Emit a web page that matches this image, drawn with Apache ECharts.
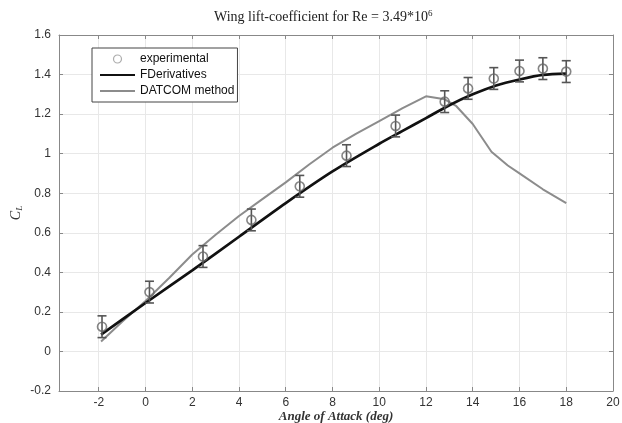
<!DOCTYPE html>
<html>
<head>
<meta charset="utf-8">
<script src="https://cdn.jsdelivr.net/npm/echarts@6/dist/echarts.min.js"></script>
<style>html,body{margin:0;padding:0;background:#fff;}#c{width:622px;height:423px;}</style>
</head>
<body>
<div id="c"></div>
<script>
// ---- data ----
var expX = [-1.86, 0.17, 2.46, 4.53, 6.6, 8.6, 10.7, 12.8, 13.8, 14.9, 16.0, 17.0, 18.0];
var expY = [0.125, 0.30, 0.48, 0.665, 0.835, 0.99, 1.14, 1.263, 1.33, 1.38, 1.418, 1.43, 1.415];
var expErr = [0.055, 0.055, 0.055, 0.055, 0.055, 0.055, 0.055, 0.055, 0.055, 0.055, 0.055, 0.055, 0.055];

var fdX = [-1.9, 0, 2, 4, 6, 8, 10, 11, 12, 13, 14, 15, 16, 17, 18];
var fdY = [0.085, 0.245, 0.41, 0.58, 0.75, 0.91, 1.05, 1.115, 1.18, 1.245, 1.30, 1.345, 1.375, 1.398, 1.405];

var datX = [-1.9, -1, 0, 1, 2, 3, 4, 5, 6, 7, 8, 9, 10, 11, 12, 12.8, 13.3, 14, 14.8, 15.5, 16, 17, 18];
var datY = [0.05, 0.15, 0.255, 0.37, 0.49, 0.59, 0.685, 0.77, 0.855, 0.945, 1.03, 1.10, 1.165, 1.23, 1.29, 1.275, 1.24, 1.15, 1.01, 0.94, 0.90, 0.82, 0.75];

var xTicks = [-2, 0, 2, 4, 6, 8, 10, 12, 14, 16, 18, 20];
var yTicks = [-0.2, 0, 0.2, 0.4, 0.6, 0.8, 1, 1.2, 1.4, 1.6];

var seriesNames = ['experimental', 'FDerivatives', 'DATCOM method'];

// ---- build ----
function zip(a, b) { return a.map(function (v, i) { return [v, b[i]]; }); }
var errData = expX.map(function (x, i) { return [x, expY[i] - expErr[i], expY[i] + expErr[i]]; });

var chart = echarts.init(document.getElementById('c'), null, { renderer: 'canvas' });
var sans = '"Liberation Sans", Arial, sans-serif';
var serif = '"Liberation Serif", "Times New Roman", serif';

function fmtX(v) { return xTicks.indexOf(Math.round(v * 1000) / 1000) >= 0 ? String(Math.round(v)) : ''; }
function fmtY(v) {
  var r = Math.round(v * 10) / 10;
  return yTicks.indexOf(r) >= 0 ? String(r) : '';
}

chart.setOption({
  animation: false,
  backgroundColor: '#fff',
  title: {
    text: 'Wing lift-coefficient for Re = 3.49*10{sup|6}',
    left: 209, top: 4,
    textStyle: {
      fontFamily: serif, fontSize: 14, fontWeight: 'normal', color: '#222',
      rich: { sup: { fontFamily: serif, fontSize: 9, color: '#222', verticalAlign: 'top', padding: [0, 0, 8, 0] } }
    }
  },
  legend: {
    orient: 'vertical',
    left: 92, top: 48,
    backgroundColor: '#fff',
    borderColor: '#444', borderWidth: 1, borderRadius: 0,
    padding: [5, 3, 5, 7],
    itemGap: 4, itemWidth: 35, itemHeight: 8,
    textStyle: { fontFamily: sans, fontSize: 12, color: '#111' },
    data: [
      { name: seriesNames[0], icon: 'circle', itemStyle: { color: 'rgba(0,0,0,0)', borderColor: '#999', borderWidth: 1.2 } },
      { name: seriesNames[1], itemStyle: { opacity: 0 } },
      { name: seriesNames[2], itemStyle: { opacity: 0 } }
    ]
  },
  grid: { left: 59, right: 9, top: 35, bottom: 32, show: false, outerBoundsMode: 'none', containLabel: false },
  xAxis: [{
    type: 'value', min: -3.7, max: 20, splitNumber: 12,
    name: 'Angle of Attack (deg)', nameLocation: 'middle', nameGap: 19, nameMoveOverlap: false,
    nameTextStyle: { fontFamily: serif, fontStyle: 'italic', fontWeight: 'bold', fontSize: 13, color: '#333' },
    axisLine: { show: true, onZero: false, lineStyle: { color: '#888', width: 1 } },
    axisTick: { inside: true, length: 4, lineStyle: { color: '#888' } },
    axisLabel: { formatter: fmtX, margin: 6, fontFamily: sans, fontSize: 12, color: '#333', showMinLabel: false },
    splitLine: { show: true, lineStyle: { color: '#e8e8e8', width: 1 } }
  }, {
    type: 'value', min: -3.7, max: 20, splitNumber: 12, position: 'top',
    axisLine: { show: true, onZero: false, lineStyle: { color: '#888', width: 1 } },
    axisTick: { inside: true, length: 4, lineStyle: { color: '#888' } },
    axisLabel: { show: false }, splitLine: { show: false }
  }],
  yAxis: [{
    type: 'value', min: -0.2, max: 1.6, interval: 0.2,
    name: 'C{sub|L}', nameLocation: 'middle', nameGap: 35, nameRotate: 90, nameMoveOverlap: false,
    nameTextStyle: {
      fontFamily: serif, fontStyle: 'italic', fontSize: 14, color: '#333',
      rich: { sub: { fontFamily: serif, fontStyle: 'italic', fontSize: 9, color: '#333', verticalAlign: 'bottom', padding: [6, 0, 0, 0] } }
    },
    axisLine: { show: true, onZero: false, lineStyle: { color: '#888', width: 1 } },
    axisTick: { inside: true, length: 4, lineStyle: { color: '#888' } },
    axisLabel: { formatter: fmtY, margin: 8, fontFamily: sans, fontSize: 12, color: '#333' },
    splitLine: { show: true, lineStyle: { color: '#e8e8e8', width: 1 } }
  }, {
    type: 'value', min: -0.2, max: 1.6, interval: 0.2, position: 'right',
    axisLine: { show: true, onZero: false, lineStyle: { color: '#888', width: 1 } },
    axisTick: { inside: true, length: 4, lineStyle: { color: '#888' } },
    axisLabel: { show: false }, splitLine: { show: false }
  }],
  series: [
    {
      name: seriesNames[2], type: 'line', data: zip(datX, datY), symbol: 'none',
      lineStyle: { color: '#8c8c8c', width: 2 }, itemStyle: { color: '#8c8c8c' }, z: 2
    },
    {
      name: seriesNames[1], type: 'line', data: zip(fdX, fdY), symbol: 'none', smooth: 0.3,
      lineStyle: { color: '#111', width: 2.7 }, itemStyle: { color: '#111' }, z: 3
    },
    {
      name: 'err', type: 'custom', data: errData, z: 4,
      renderItem: function (params, api) {
        var x = api.value(0);
        var lo = api.coord([x, api.value(1)]);
        var hi = api.coord([x, api.value(2)]);
        var w = 4.5;
        var st = { stroke: '#555', lineWidth: 1.6, fill: null };
        return {
          type: 'group', children: [
            { type: 'line', shape: { x1: lo[0], y1: lo[1], x2: hi[0], y2: hi[1] }, style: st },
            { type: 'line', shape: { x1: lo[0] - w, y1: lo[1], x2: lo[0] + w, y2: lo[1] }, style: st },
            { type: 'line', shape: { x1: hi[0] - w, y1: hi[1], x2: hi[0] + w, y2: hi[1] }, style: st }
          ]
        };
      }
    },
    {
      name: seriesNames[0], type: 'scatter', data: zip(expX, expY), symbol: 'circle', symbolSize: 9, z: 5,
      itemStyle: { color: 'rgba(0,0,0,0)', borderColor: '#666', borderWidth: 1.6 }
    }
  ]
});
</script>
</body>
</html>
